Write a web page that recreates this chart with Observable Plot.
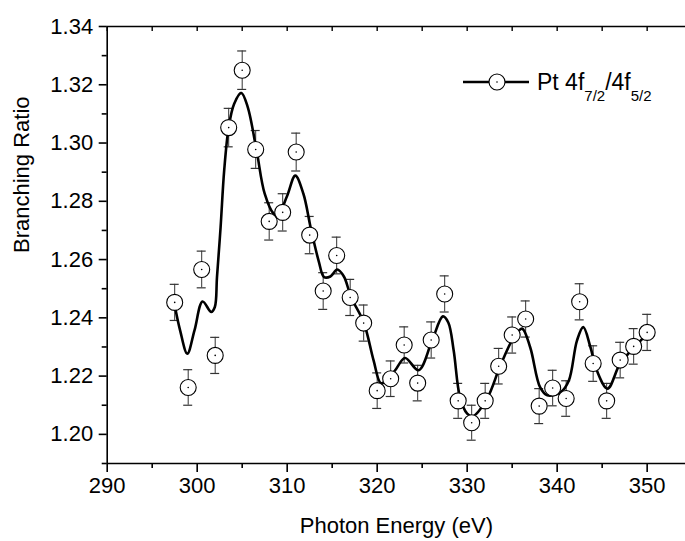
<!DOCTYPE html>
<html>
<head>
<meta charset="utf-8">
<script src="https://cdn.jsdelivr.net/npm/d3@7"></script>
<script src="https://cdn.jsdelivr.net/npm/@observablehq/plot@0.6"></script>
<style>
  html, body { margin: 0; padding: 0; background: #fff; }
  #wrap { position: relative; width: 685px; height: 541px; overflow: hidden; font-family: "Liberation Sans", Arial, sans-serif; }
  #legend { position: absolute; left: 0; top: 0; pointer-events: none; }
</style>
</head>
<body>
<div id="wrap"></div>
<script>
// Measured data points (photon energy in eV, branching ratio, error)
const energy = [297.5, 299, 300.5, 302, 303.5, 305, 306.5, 308, 309.5, 311, 312.5, 314, 315.5, 317, 318.5, 320, 321.5, 323, 324.5, 326, 327.5, 329, 330.5, 332, 333.5, 335, 336.5, 338, 339.5, 341, 342.5, 344, 345.5, 347, 348.5, 350];
const ratio = [1.2453, 1.2161, 1.2566, 1.2271, 1.3053, 1.3250, 1.2978, 1.2731, 1.2762, 1.2969, 1.2684, 1.2492, 1.2614, 1.2470, 1.2382, 1.2150, 1.2191, 1.2307, 1.2176, 1.2324, 1.2482, 1.2115, 1.2040, 1.2115, 1.2234, 1.2341, 1.2396, 1.2097, 1.2159, 1.2123, 1.2455, 1.2243, 1.2115, 1.2255, 1.2302, 1.2350];
const errors = [0.0062, 0.0061, 0.0063, 0.0062, 0.0066, 0.0066, 0.0065, 0.0064, 0.0064, 0.0065, 0.0064, 0.0063, 0.0063, 0.0062, 0.0062, 0.0061, 0.0061, 0.0062, 0.0061, 0.0062, 0.0062, 0.0060, 0.0060, 0.0060, 0.0061, 0.0062, 0.0062, 0.0060, 0.0061, 0.0061, 0.0062, 0.0061, 0.0060, 0.0061, 0.0061, 0.0062];

// Smoothed fit curve
const fitEnergy = [297.5, 298.1, 298.9, 299.7, 300.6, 301.56, 301.96, 302.2, 302.6, 303.0, 303.5, 304.1, 304.9, 305.6, 306.6, 307.5, 308.5, 308.96, 310.0, 310.9, 311.8, 312.6, 313.5, 314.1, 314.8, 315.56, 316.3, 317.1, 318.5, 319.6, 320.4, 321.1, 322.0, 323.1, 324.6, 326.1, 327.3, 327.9, 328.5, 329.2, 330.0, 330.6, 332.2, 333.7, 335.2, 336.1, 337.0, 338.1, 338.9, 340.4, 341.3, 342.2, 342.9, 343.7, 344.4, 345.6, 347.0, 348.7, 350.2];
const fitRatio = [1.2443, 1.2357, 1.2277, 1.2357, 1.2456, 1.2420, 1.2437, 1.2540, 1.2711, 1.2906, 1.3054, 1.3134, 1.3172, 1.3125, 1.2974, 1.2826, 1.2757, 1.2752, 1.2819, 1.2888, 1.2826, 1.2711, 1.2595, 1.2540, 1.2542, 1.2566, 1.2542, 1.2471, 1.2385, 1.2254, 1.2176, 1.2185, 1.2220, 1.2262, 1.2220, 1.2322, 1.2405, 1.2384, 1.2288, 1.2128, 1.2071, 1.2062, 1.2122, 1.2237, 1.2334, 1.2363, 1.2299, 1.2162, 1.2134, 1.2145, 1.2185, 1.2322, 1.2368, 1.2299, 1.2220, 1.2157, 1.2243, 1.2303, 1.2351];

// Tick values
const xMajorTicks = [290, 300, 310, 320, 330, 340, 350];
const xMinorTicks = [295, 305, 315, 325, 335, 345];
const xTopTicks = [290, 295, 300, 305, 310, 315, 320, 325, 330, 335, 340, 345, 350];
const yMajorTicks = [1.20, 1.22, 1.24, 1.26, 1.28, 1.30, 1.32, 1.34];
const yMinorTicks = [1.19, 1.21, 1.23, 1.25, 1.27, 1.29, 1.31, 1.33];
const xTitle = "Photon Energy (eV)";
const yTitle = "Branching Ratio";

const points = energy.map((e, i) => ({e, r: ratio[i], lo: ratio[i] - errors[i], hi: ratio[i] + errors[i]}));
const fit = fitEnergy.map((e, i) => ({e, r: fitRatio[i]}));
const capHalf = 0.5;

const FONT = "Liberation Sans, Arial, sans-serif";

const chart = Plot.plot({
  width: 685,
  height: 541,
  marginLeft: 106.7,
  marginRight: 0,
  marginTop: 26,
  marginBottom: 78,
  style: {fontFamily: FONT, fontSize: "22px", color: "#000", background: "#fff", overflow: "visible"},
  x: {domain: [290, 354.26], label: null},
  y: {domain: [1.19, 1.34], label: null},
  marks: [
    // frame lines
    Plot.ruleY([1.19], {stroke: "#000", strokeWidth: 1.6}),
    Plot.ruleY([1.34], {stroke: "#000", strokeWidth: 1.6}),
    Plot.ruleX([290], {stroke: "#000", strokeWidth: 1.6}),
    // axes
    Plot.axisX(xMajorTicks, {anchor: "bottom", tickSize: 9, tickPadding: 5, fontSize: 22, strokeWidth: 1.6, tickFormat: d => String(d), label: null}),
    Plot.axisX(xMinorTicks, {anchor: "bottom", tickSize: 5, strokeWidth: 1.6, tickFormat: () => "", label: null}),
    Plot.axisX(xTopTicks, {anchor: "top", tickSize: 4, dy: 4, strokeWidth: 1.4, tickFormat: () => "", label: null}),
    Plot.axisY(yMajorTicks, {anchor: "left", tickSize: 8, tickPadding: 6, fontSize: 22, strokeWidth: 1.6, tickFormat: d => d.toFixed(2), label: null}),
    Plot.axisY(yMinorTicks, {anchor: "left", tickSize: 5, strokeWidth: 1.6, tickFormat: () => "", label: null}),
    // axis titles
    Plot.text([xTitle], {frameAnchor: "bottom", dy: 62, fontSize: 22, lineAnchor: "middle", fill: "#000"}),
    Plot.text([yTitle], {frameAnchor: "left", dx: -85, dy: 8, rotate: -90, fontSize: 22, lineAnchor: "middle", fill: "#000"}),
    // error bars
    Plot.ruleX(points, {x: "e", y1: "lo", y2: "hi", stroke: "#333", strokeWidth: 1}),
    Plot.ruleY(points, {y: "hi", x1: d => d.e - capHalf, x2: d => d.e + capHalf, stroke: "#333", strokeWidth: 1.2}),
    Plot.ruleY(points, {y: "lo", x1: d => d.e - capHalf, x2: d => d.e + capHalf, stroke: "#333", strokeWidth: 1.2}),
    // fit curve
    Plot.line(fit, {x: "e", y: "r", curve: "catmull-rom", stroke: "#000", strokeWidth: 2.6}),
    // markers
    Plot.dot(points, {x: "e", y: "r", r: 8, fill: "#fff", stroke: "#000", strokeWidth: 1.1}),
    Plot.dot(points, {x: "e", y: "r", r: 0.8, fill: "#000", stroke: null})
  ]
});

const wrap = document.getElementById("wrap");
wrap.appendChild(chart);

// Legend (inside the plot, top right)
const ns = "http://www.w3.org/2000/svg";
const leg = document.createElementNS(ns, "svg");
leg.setAttribute("id", "legend");
leg.setAttribute("width", 685);
leg.setAttribute("height", 541);
leg.innerHTML = `
  <line x1="463" y1="82" x2="529" y2="82" stroke="#000" stroke-width="2.6"/>
  <circle cx="497" cy="82" r="8" fill="#fff" stroke="#000" stroke-width="1.1"/>
  <circle cx="497" cy="82" r="0.8" fill="#000"/>
  <text x="537" y="90" font-family="${FONT}" font-size="23" fill="#000">Pt 4f<tspan font-size="15" dy="11">7/2</tspan><tspan dy="-11">/4f</tspan><tspan font-size="15" dy="11">5/2</tspan></text>
`;
wrap.appendChild(leg);
</script>
</body>
</html>
